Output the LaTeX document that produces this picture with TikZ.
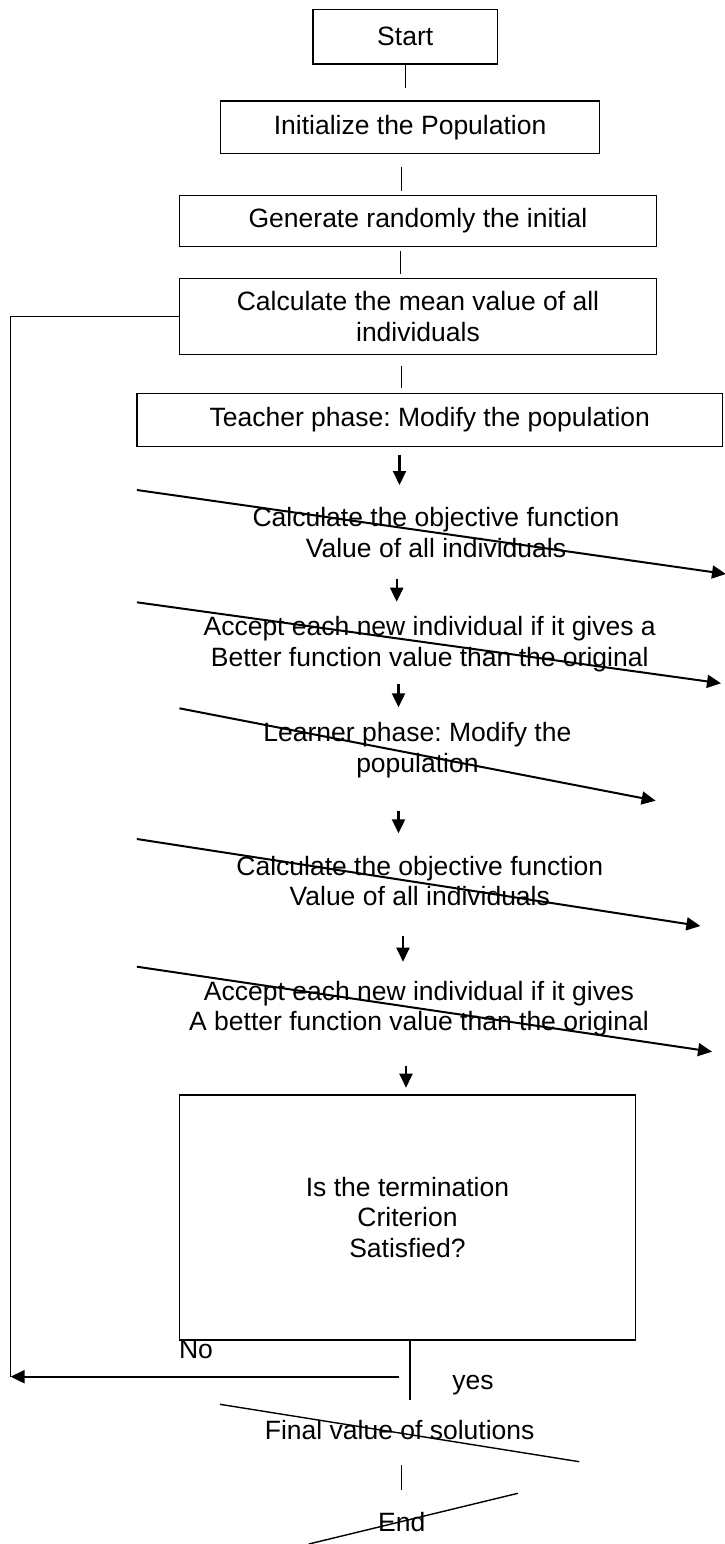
\documentclass[tikz,border=0pt]{standalone}
\usepackage{fontspec}
\setmainfont{Liberation Sans}
\usetikzlibrary{arrows.meta}
\frenchspacing
\begin{document}
\begin{tikzpicture}[x=1pt,y=-1pt,
  every node/.style={font=\fontsize{26.5}{30.5}\selectfont\frenchspacing, inner sep=0pt, align=center},
  box/.style={draw, line width=1.2pt},
  thinline/.style={line width=1.2pt},
  arr/.style={line width=2.2pt, -{Triangle[length=14pt,width=13pt]}},
  slantarr/.style={line width=2pt, -{Triangle[length=14pt,width=13pt]}},
  slantline/.style={line width=1.4pt}]
\useasboundingbox (0,0) rectangle (725,1544);

% boxes
\node[box, minimum width=184.5, minimum height=54.7] (start) at (405.2,36.7) {Start};
\node[box, minimum width=379.2, minimum height=52.7] (init) at (410.1,127.4) {Initialize the Population};
\node[box, minimum width=477.1, minimum height=51] (gen) at (418,220.8) {Generate randomly the initial};
\node[box, minimum width=477.1, minimum height=75.6] (mean) at (418,316.5) {Calculate the mean value of all\\individuals};
\node[box, minimum width=585.7, minimum height=53.4] (teach) at (429.8,420) {Teacher phase: Modify the population};
\node[box, minimum width=456.3, minimum height=245] (dec) at (407.5,1217.5) {Is the termination\\Criterion\\Satisfied?};

% floating texts
\node (obj1) at (436,532.5) {Calculate the objective function\\Value of all individuals};
\node (acc1) at (429.7,644.3) {Accept each new individual if it gives a\\Better function value than the original};
\node (learn) at (417.4,750) {Learner phase: Modify the\\population};
\node (obj2) at (419.8,881) {Calculate the objective function\\Value of all individuals};
\node (acc2) at (419,1008.7) {Accept each new individual if it gives\\A better function value than the original};
\node (final) at (399.7,1430) {Final value of solutions};
\node (end) at (401.8,1521.7) {End};
\node (no) at (196,1349.3) {No};
\node (yes) at (473,1385) {yes};

% coordinates
\coordinate (x2) at (401.8,0);
\coordinate (x3) at (400.4,0);
\coordinate (x4) at (401.8,0);
\coordinate (a1s) at (399.5,455.3);
\coordinate (a1e) at (399.5,485);
\coordinate (a2s) at (396.7,578.7);
\coordinate (a2e) at (396.7,601.7);
\coordinate (a3s) at (398.5,684.3);
\coordinate (a3e) at (398.5,707.3);
\coordinate (a4s) at (398.5,810.7);
\coordinate (a4e) at (398.5,833.3);
\coordinate (a5s) at (403,935.7);
\coordinate (a5e) at (403,961.7);
\coordinate (a6s) at (406,1065.7);
\coordinate (x6) at (406,0);
\coordinate (d1) at (410,1400);
\coordinate (f1) at (401.8,1465);
\coordinate (f2) at (401.8,1490);
\coordinate (fb) at (10.6,1376.7);
\coordinate (nostart) at (398.5,1376.7);

% short connectors
\draw[thinline] (start.south) -- ++(0,23.7);
\draw[thinline, shorten <=13pt, shorten >=4pt] (init.south -| x2) -- (gen.north -| x2);
\draw[thinline, shorten <=4.4pt, shorten >=4.4pt] (gen.south -| x3) -- (mean.north -| x3);
\draw[thinline, shorten <=11pt, shorten >=4.3pt] (mean.south -| x4) -- (teach.north -| x4);

% arrows
\draw[arr] (a1s) -- (a1e);
\draw[arr] (a2s) -- (a2e);
\draw[arr] (a3s) -- (a3e);
\draw[arr] (a4s) -- (a4e);
\draw[arr] (a5s) -- (a5e);
\draw[arr, shorten >=6.7pt] (a6s) -- (dec.north -| x6);

% slanted lines (parallelogram remnants)
\draw[slantarr] (136.9,490) -- (726,574);
\draw[slantarr] (136.9,602.3) -- (721,683.3);
\draw[slantarr] (179.4,708.3) -- (655.6,800.7);
\draw[slantarr] (136.9,839) -- (700.4,926);
\draw[slantarr] (136.9,966.7) -- (712,1051.7);
\draw[slantline] (220,1404.3) -- (579.3,1461.7);
\draw[slantline] (517.8,1493.3) -- (308.8,1544);

% feedback loop
\draw[thinline] (mean.west) -| (fb);
\draw[arr] (nostart) -- (fb);

% decision down
\draw[thinline] (dec.south -| d1) -- (d1);
\draw[thinline] (f1) -- (f2);
\end{tikzpicture}
\end{document}
